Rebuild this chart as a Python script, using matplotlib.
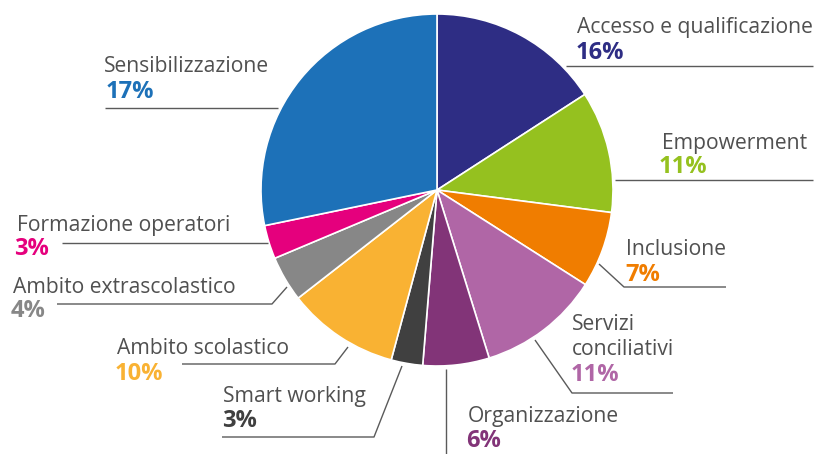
import matplotlib
matplotlib.use("Agg")
import matplotlib.pyplot as plt

categories = ["Accesso e qualificazione", "Empowerment", "Inclusione", "Servizi\nconciliativi",
              "Organizzazione", "Smart working", "Ambito scolastico", "Ambito extrascolastico",
              "Formazione operatori", "Sensibilizzazione"]
# slice sizes
sizes = [15.9, 11.2, 7.0, 11.2, 6.1, 2.9, 10.3, 4.2, 3.1, 28.3]
# percentages as printed on the chart
pct_labels = ["16%", "11%", "7%", "11%", "6%", "3%", "10%", "4%", "3%", "17%"]
colors = ["#2E2D84", "#95C11F", "#F07D00", "#B066A6", "#823478", "#404040",
          "#F9B233", "#878787", "#E5007D", "#1D71B8"]

W, H = 818, 454
fig = plt.figure(figsize=(W / 100, H / 100), dpi=100)
ax = fig.add_axes([0, 0, 1, 1])

def Y(y):
    return H - y

cx, cy, r = 437, 190, 176
ax.pie(sizes, colors=colors, startangle=90, counterclock=False,
       center=(cx, Y(cy)), radius=r, frame=True,
       wedgeprops=dict(edgecolor="white", linewidth=1.2))
ax.set_xlim(0, W)
ax.set_ylim(0, H)
ax.set_aspect("auto")
ax.axis("off")

line_col = "#5a5a5a"
text_col = "#505050"
fs = 15.2
fs_pct = 17
font = "Open Sans"

# leader lines (pixel layout)
leaders = [
    [(566, 66), (813, 66)],
    [(615, 180), (813, 180)],
    [(599, 264), (624, 287), (726, 287)],
    [(535, 340), (572, 393), (673, 393)],
    [(446, 369), (446, 454)],
    [(402, 366), (374, 437), (222, 437)],
    [(348, 347), (335, 364), (182, 364)],
    [(287, 287), (272, 304), (57, 304)],
    [(268, 243), (62, 243)],
    [(278, 108), (105, 108)],
]
for pts in leaders:
    ax.plot([p[0] for p in pts], [Y(p[1]) for p in pts], color=line_col, lw=1.0,
            solid_capstyle="butt")

# label positions: (x_name, baseline_name, x_pct, baseline_pct)
label_pos = [
    (577, 33, 576, 59),
    (662, 149, 659, 173),
    (626, 255, 625, 281),
    (572, 330, 571, 381),
    (468, 422, 466, 447),
    (223, 402, 222, 427),
    (117, 354, 115, 380),
    (13, 293, 11, 317),
    (17, 231, 14, 255),
    (104, 72, 106, 98),
]
for cat, pct, col, (xn, yn, xp, yp) in zip(categories, pct_labels, colors, label_pos):
    if "\n" in cat:
        first, second = cat.split("\n")
        ax.text(xn, Y(yn), first, fontsize=fs, family=font, color=text_col,
                ha="left", va="baseline")
        ax.text(xn, Y(yn + 25), second, fontsize=fs, family=font, color=text_col,
                ha="left", va="baseline")
    else:
        ax.text(xn, Y(yn), cat, fontsize=fs, family=font, color=text_col,
                ha="left", va="baseline")
    ax.text(xp, Y(yp), pct, fontsize=fs_pct, family=font, fontweight="bold", color=col,
            ha="left", va="baseline")

fig.savefig("out.png", dpi=100)
